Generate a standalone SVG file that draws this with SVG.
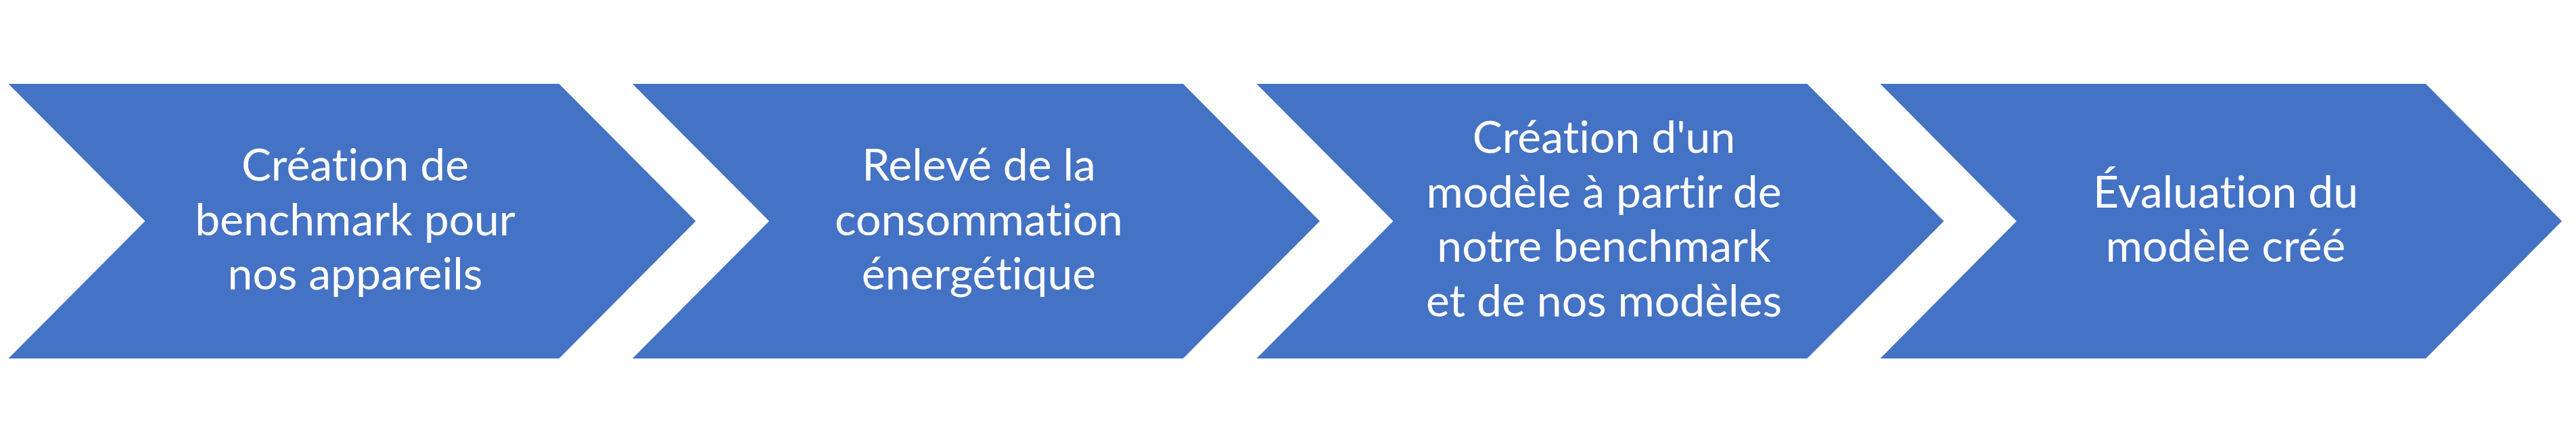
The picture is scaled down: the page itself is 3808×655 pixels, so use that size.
<svg xmlns="http://www.w3.org/2000/svg" width="3808" height="655" viewBox="0 0 3808 655">
<style>
.chev{fill:#4472C4;}
.lbl{font-family:Lato,"Liberation Sans",sans-serif;font-size:66px;fill:#FFFFFF;text-anchor:middle;font-variant-ligatures:none;font-feature-settings:"liga" 0,"clig" 0,"dlig" 0;}
</style>
<rect width="3808" height="655" fill="#FFFFFF"/>
<g id="step1">
<polygon class="chev" points="12.5,124 826.5,124 1028.5,327 826.5,530 12.5,530 214.5,327"/>
<text class="lbl"><tspan x="525" y="267">Création de</tspan><tspan x="525" y="347.5">benchmark pour</tspan><tspan x="525" y="428">nos appareils</tspan></text>
</g>
<g id="step2">
<polygon class="chev" points="935,124 1749,124 1951,327 1749,530 935,530 1137,327"/>
<text class="lbl"><tspan x="1447" y="267">Relevé de la</tspan><tspan x="1447" y="347.5">consommation</tspan><tspan x="1447" y="428">énergétique</tspan></text>
</g>
<g id="step3">
<polygon class="chev" points="1857.5,124 2671.5,124 2873.5,327 2671.5,530 1857.5,530 2059.5,327"/>
<text class="lbl"><tspan x="2371" y="226">Création d'un</tspan><tspan x="2371" y="306.5">modèle à partir de</tspan><tspan x="2371" y="387">notre benchmark</tspan><tspan x="2371" y="468">et de nos modèles</tspan></text>
</g>
<g id="step4">
<polygon class="chev" points="2779.5,124 3586,124 3787,327 3586,530 2779.5,530 2981,327"/>
<text class="lbl"><tspan x="3290" y="306.5">Évaluation du</tspan><tspan x="3290" y="387">modèle créé</tspan></text>
</g>
<g id="connectors"/>
</svg>
